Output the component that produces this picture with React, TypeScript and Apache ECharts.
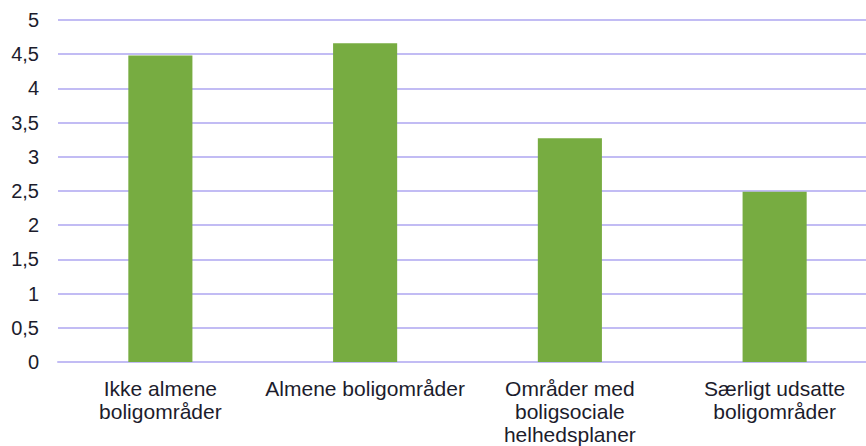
import React, { useEffect, useRef } from "react";
import * as echarts from "echarts";

const categories = [
  "Ikke almene\nboligområder",
  "Almene boligområder",
  "Områder med\nboligsociale\nhelhedsplaner",
  "Særligt udsatte\nboligområder",
];
const values = [4.48, 4.66, 3.27, 2.49];

const fmt = (v: number) => String(v).replace(".", ",");
const FONT = "'Liberation Sans', Arial, sans-serif";
const TEXT = "#1c1c2c";
const GRID = "#C2BCF4";

export default function App() {
  const ref = useRef<HTMLDivElement>(null);
  useEffect(() => {
    if (!ref.current) return;
    const chart = echarts.init(ref.current, null, { renderer: "svg" });
    chart.setOption({
      animation: false,
      // the plot area runs a little past the right edge of the canvas
      grid: {
        left: 58,
        top: 20,
        width: 819,
        height: 342,
        containLabel: false,
        outerBoundsMode: "none",
      },
      xAxis: {
        type: "category",
        data: categories,
        axisLine: { show: true, lineStyle: { color: GRID, width: 2 } },
        axisTick: { show: false },
        axisLabel: {
          interval: 0,
          margin: 15,
          color: TEXT,
          fontFamily: FONT,
          fontSize: 21,
          lineHeight: 23,
        },
      },
      yAxis: {
        type: "value",
        min: 0,
        max: 5,
        interval: 0.5,
        axisLine: { show: false },
        axisTick: { show: false },
        splitLine: { lineStyle: { color: GRID, width: 2 } },
        axisLabel: {
          margin: 19,
          color: TEXT,
          fontFamily: FONT,
          fontSize: 20,
          formatter: (v: number) => fmt(v),
        },
      },
      series: [
        {
          type: "bar",
          data: values,
          barWidth: "31.3%",
          itemStyle: { color: "#77AC41" },
        },
      ],
    });
    return () => chart.dispose();
  }, []);
  return <div ref={ref} style={{ width: 866, height: 446, position: "absolute", left: 0, top: 0 }} />;
}
